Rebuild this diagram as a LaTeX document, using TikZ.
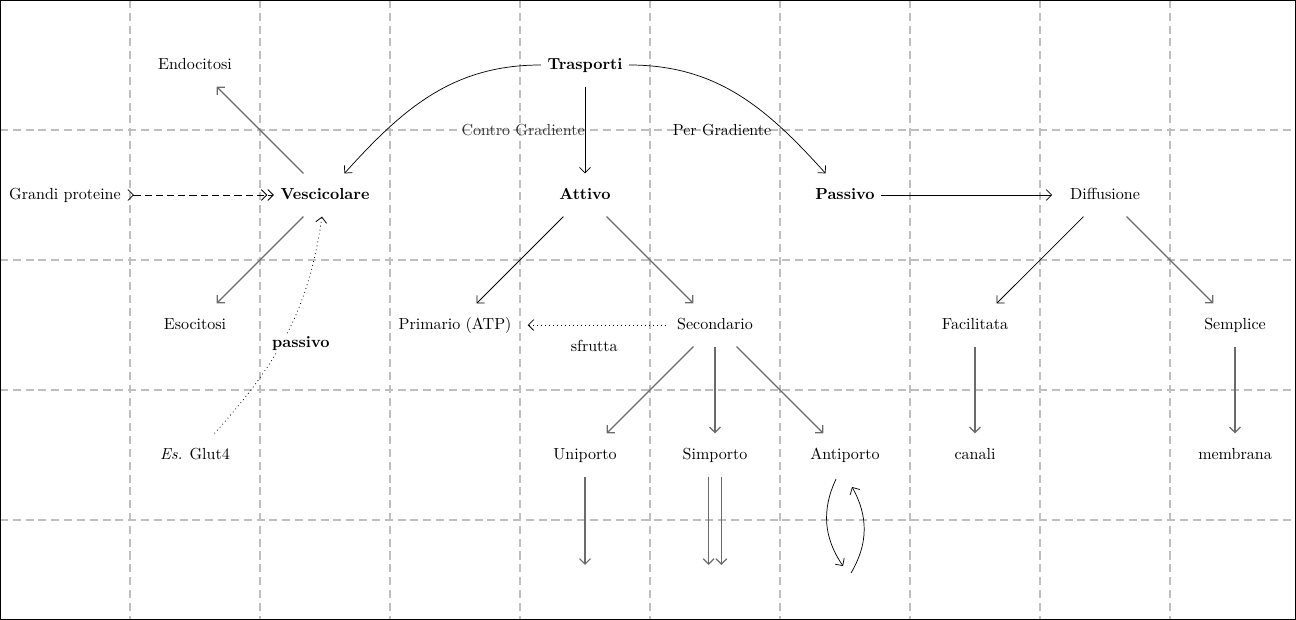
\documentclass[tikz,border=0pt]{standalone}
\usetikzlibrary{arrows.meta,calc}
\begin{document}
\begin{tikzpicture}[x=2.85cm,y=2.85cm,
  >={Straight Barb[length=3.4pt,width=6.8pt]},
  nd/.style={inner xsep=4pt, inner ysep=9.5pt, text height=1.5ex, text depth=.25ex},
  bnd/.style={nd, font=\bfseries},
  ar/.style={->, line width=0.45pt, black},
  gar/.style={->, line width=0.75pt, black!58},
  gridline/.style={black!25, line width=0.8pt, dash pattern=on 5pt off 3pt},
  lab/.style={inner sep=2pt}]
\useasboundingbox (0,0) rectangle (9.9692,-4.7692);
% grid
\foreach \x in {1,...,9} \draw[gridline] (\x,0) -- (\x,-4.7692);
\foreach \y in {1,...,4} \draw[gridline] (0,-\y) -- (9.9692,-\y);
% frame
\draw[line width=0.9pt] ([shift={(0.45pt,-0.45pt)}]0,0) rectangle ([shift={(-0.45pt,0.45pt)}]9.9692,-4.7692);
% nodes
\node[bnd] (T) at (4.5,-0.5) {Trasporti};
\node[nd] (En) at (1.5,-0.5) {Endocitosi};
\node[nd] (G) at (0.5,-1.5) {Grandi proteine};
\node[bnd] (V) at (2.5,-1.5) {Vescicolare};
\node[bnd] (A) at (4.5,-1.5) {Attivo};
\node[bnd] (P) at (6.5,-1.5) {Passivo};
\node[nd] (D) at (8.5,-1.5) {Diffusione};
\node[nd] (Es) at (1.5,-2.5) {Esocitosi};
\node[nd] (Pr) at (3.5,-2.5) {Primario (ATP)};
\node[nd] (Se) at (5.5,-2.5) {Secondario};
\node[nd] (F) at (7.5,-2.5) {Facilitata};
\node[nd] (Sm) at (9.5,-2.5) {Semplice};
\node[nd] (Gl) at (1.5,-3.5) {\textit{Es.} Glut4};
\node[nd] (U) at (4.5,-3.5) {Uniporto};
\node[nd] (Si) at (5.5,-3.5) {Simporto};
\node[nd] (An) at (6.5,-3.5) {Antiporto};
\node[nd] (C) at (7.5,-3.5) {canali};
\node[nd] (M) at (9.5,-3.5) {membrana};
\node[lab] (PG) at (5.554,-1) {Per Gradiente};
% free ends
\coordinate (u5) at (4.5,-4.346);
\coordinate (s5) at (5.5,-4.346);
\coordinate (ap1) at (6.431,-3.685);
\coordinate (ap2) at (6.485,-4.354);
\coordinate (ap3) at (6.546,-4.408);
\coordinate (ap4) at (6.554,-3.746);
% connectors
\draw[ar] (T) -- node[midway, anchor=east, inner sep=0pt, text=black!80] {Contro Gradiente} (A);
\draw[ar] (T.west) to[out=180,in=48] (V);
\draw[ar] (T.east) to[out=0,in=132] (P);
\draw[gar] (V) -- (En);
\draw[gar] (V) -- (Es);
\draw[black, line width=0.5pt, dash pattern=on 4.5pt off 2.5pt, >->>] (G) -- (V);
\draw[->, black, line width=0.5pt, dotted] (Gl) to[out=48,in=-98] node[pos=0.45, fill=white, font=\bfseries, inner sep=1pt, xshift=12pt] {passivo} (V);
\draw[ar] (A) -- (Pr);
\draw[gar] (A) -- (Se);
\draw[->, black, line width=0.5pt, dotted, shorten <=3pt, shorten >=6pt] (Se) -- node[below=6pt] {sfrutta} (Pr);
\draw[ar, shorten >=7pt] (P) -- (D);
\draw[ar] (D) -- (F);
\draw[gar] (D) -- (Sm);
\draw[gar] (Se) -- (U);
\draw[gar] (Se) -- (Si);
\draw[gar] (Se) -- (An);
\draw[gar] (F) -- (C);
\draw[gar] (Sm) -- (M);
\draw[gar] (U) -- (u5);
\draw[gar] ([xshift=-4pt]Si.south) -- ([xshift=-4pt]s5);
\draw[gar] ([xshift=4pt]Si.south) -- ([xshift=4pt]s5);
\draw[ar] (ap1) to[bend right=30] (ap2);
\draw[ar] (ap3) to[bend right=30] (ap4);
\end{tikzpicture}
\end{document}
